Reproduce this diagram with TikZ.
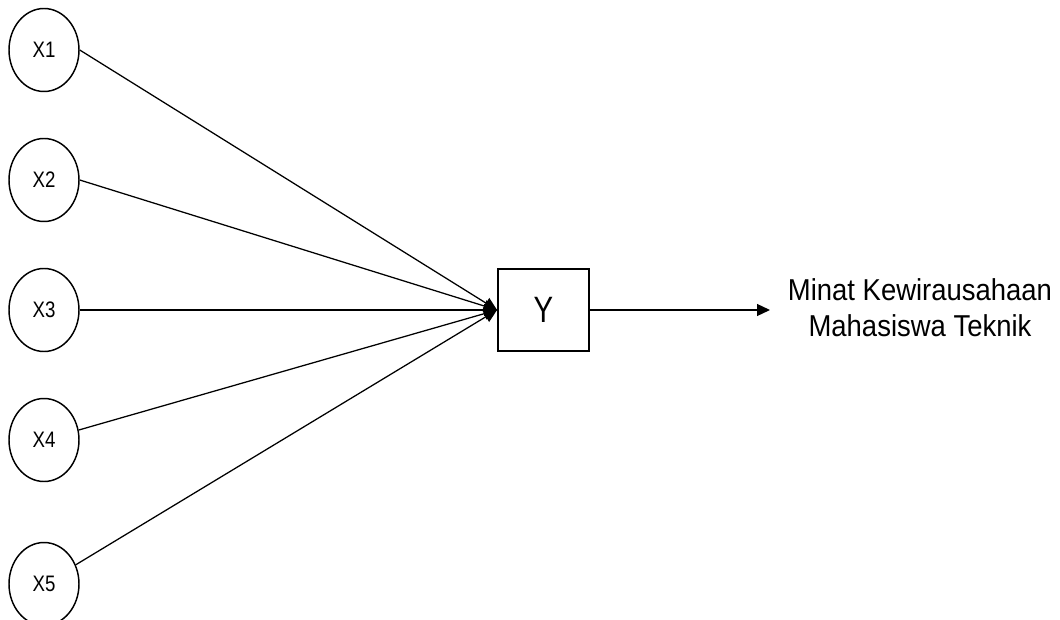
\documentclass[tikz,border=0pt]{standalone}
\usepackage{fontspec}
\setmainfont{Liberation Sans}
\usetikzlibrary{shapes.geometric,arrows.meta}
% glyphs drawn slightly taller than the plain face
\newcommand{\tallx}[2]{\scalebox{1}[#1]{#2}}
\begin{document}
\begin{tikzpicture}[x=0.75pt,y=-0.75pt,
  varnode/.style={ellipse,draw,line width=1.1pt,minimum width=52.5pt,minimum height=62.25pt,inner sep=0pt,font=\fontsize{14}{16}\selectfont},
  outbox/.style={rectangle,draw,line width=1.4pt,minimum width=68.25pt,minimum height=61.5pt,inner sep=0pt,font=\fontsize{22}{26}\selectfont},
  link/.style={line width=0.95pt,-{Triangle[length=9.75pt,width=9pt]}},
  result/.style={inner sep=0pt,font=\fontsize{20.6}{25}\selectfont}]
\useasboundingbox (0,0) rectangle (1060,620);
\node[varnode] (x1) at (44,50) {\tallx{1.2}{X1}};
\node[varnode] (x2) at (44,180) {\tallx{1.2}{X2}};
\node[varnode] (x3) at (44,310) {\tallx{1.2}{X3}};
\node[varnode] (x4) at (44,440) {\tallx{1.2}{X4}};
\node[varnode] (x5) at (44,584) {\tallx{1.2}{X5}};
\node[outbox] (y) at (543.5,310) {\tallx{1.25}{Y}};
\node[result,anchor=north] (t) at (920,274.3)
  {\tallx{1.1}{\begin{tabular}{@{}c@{}}Minat Kewirausahaan\\Mahasiswa Teknik\end{tabular}}};
\coordinate (tip) at (770,310);
\draw[link] (x1.east) -- (y.west);
\draw[link] (x2.east) -- (y.west);
\draw[link] (x3.east) -- (y.west);
\draw[link] (x4) -- (y.west);
\draw[link] (x5) -- (y.west);
\draw[link] (y.east) -- (tip);
\end{tikzpicture}
\end{document}
